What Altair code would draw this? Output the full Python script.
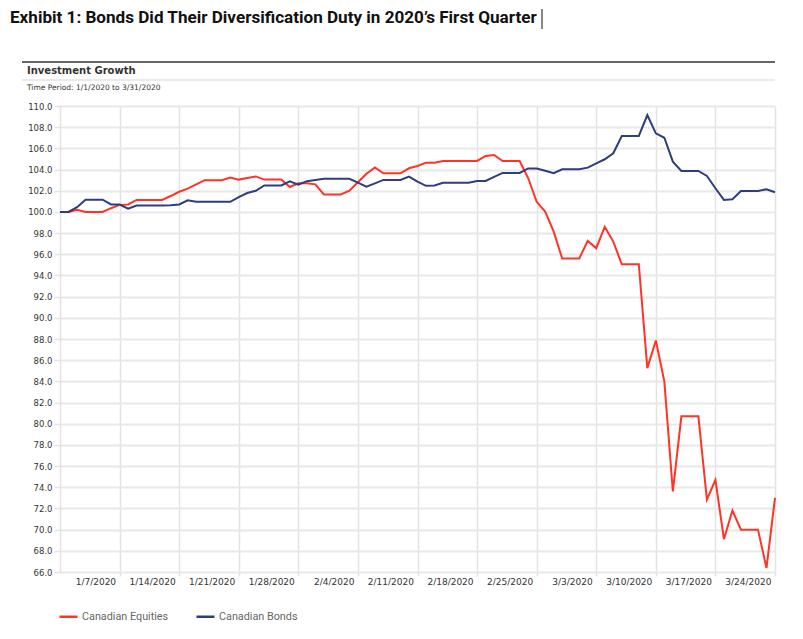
import altair as alt
import pandas as pd

# Daily values (calendar days) from 2019-12-31 to 2020-03-24
start_date = "2019-12-31"
equities = [
    100.0, 100.0, 100.2, 100.0, 100.0, 100.0, 100.35, 100.66, 100.7, 101.13,
    101.13, 101.13, 101.13, 101.5, 101.9, 102.2, 102.6, 103.0, 103.0, 103.0,
    103.24, 103.05, 103.2, 103.35, 103.05, 103.05, 103.05, 102.35, 102.7, 102.7,
    102.6, 101.65, 101.65, 101.65, 102.0, 102.8, 103.6, 104.2, 103.65, 103.65,
    103.65, 104.12, 104.34, 104.65, 104.65, 104.81, 104.81, 104.81, 104.81, 104.81,
    105.28, 105.38, 104.81, 104.81, 104.81, 103.2, 100.95, 100.03, 98.14, 95.6,
    95.6, 95.6, 97.26, 96.57, 98.6, 97.2, 95.06, 95.06, 95.06, 85.25,
    87.86, 84.0, 73.6, 80.7, 80.7, 80.7, 72.83, 74.7, 69.1, 71.8,
    70.0, 70.0, 70.0, 66.38, 73.0,
]
bonds = [
    100.0, 100.0, 100.45, 101.15, 101.15, 101.15, 100.7, 100.7, 100.3, 100.6,
    100.6, 100.6, 100.6, 100.62, 100.7, 101.1, 100.95, 100.95, 100.95, 100.95,
    100.95, 101.4, 101.78, 102.0, 102.5, 102.5, 102.5, 102.88, 102.58, 102.9,
    103.02, 103.12, 103.12, 103.12, 103.12, 102.77, 102.39, 102.7, 103.02, 103.02,
    103.02, 103.33, 102.86, 102.46, 102.5, 102.75, 102.75, 102.75, 102.75, 102.92,
    102.92, 103.3, 103.68, 103.68, 103.68, 104.1, 104.1, 103.88, 103.65, 104.03,
    104.03, 104.03, 104.18, 104.59, 104.97, 105.54, 107.17, 107.17, 107.17, 109.15,
    107.42, 107.0, 104.75, 103.87, 103.87, 103.87, 103.4, 102.23, 101.13, 101.2,
    101.98, 101.98, 101.98, 102.14, 101.86,
]
series_names = ["Canadian Equities", "Canadian Bonds"]
series_colors = ["#ff3326", "#2e3d7c"]
tick_dates = [(1, 7), (1, 14), (1, 21), (1, 28), (2, 4), (2, 11), (2, 18),
              (2, 25), (3, 3), (3, 10), (3, 17), (3, 24)]
y_ticks = [66 + 2 * i for i in range(23)]

title_text = "Exhibit 1: Bonds Did Their Diversification Duty in 2020\u2019s First Quarter"
panel_title = "Investment Growth"
period_text = "Time Period: 1/1/2020 to 3/31/2020"

dates = pd.date_range(start=start_date, periods=len(equities), freq="D").strftime("%Y-%m-%dT00:00:00")
df = pd.concat([
    pd.DataFrame({"date": dates, "value": equities, "series": series_names[0]}),
    pd.DataFrame({"date": dates, "value": bonds, "series": series_names[1]}),
])

W, H = 715, 466
cond_font = "Roboto"
axis_font = "DejaVu Sans"

x_enc = alt.X(
    "date:T",
    scale=alt.Scale(domain=[alt.DateTime(year=2019, month=12, date=31),
                            alt.DateTime(year=2020, month=3, date=24)]),
    axis=alt.Axis(
        values=[alt.DateTime(year=2020, month=m, date=d) for m, d in tick_dates],
        format="%-m/%-d/%Y", title=None, labelAlign="right", labelOffset=-4,
        labelFont=axis_font, labelFontSize=9, labelColor="#333",
        tickSize=4, tickColor="#e3e3e3", tickWidth=1.5, labelPadding=1,
        grid=True, gridColor="#e3e3e3", gridWidth=1.5, domain=False,
    ),
)
y_enc = alt.Y(
    "value:Q",
    scale=alt.Scale(domain=[66, 110], nice=False, zero=False),
    axis=alt.Axis(
        values=y_ticks, format=".1f", title=None,
        labelFont=axis_font, labelFontSize=8.5, labelColor="#333",
        tickSize=6, tickColor="#e3e3e3", tickWidth=1.5, labelPadding=2,
        grid=True, gridColor="#e8e8e8", gridWidth=2,
        domain=True, domainColor="#e3e3e3", domainWidth=1.5,
    ),
)

lines = alt.Chart(df).mark_line(strokeWidth=2).encode(
    x=x_enc,
    y=y_enc,
    color=alt.Color(
        "series:N",
        scale=alt.Scale(domain=series_names, range=series_colors),
        sort=series_names,
        legend=alt.Legend(
            title=None, orient="none", legendX=-2, legendY=500, direction="horizontal",
            symbolType="stroke", symbolSize=324, symbolStrokeWidth=2.5,
            labelFont=cond_font, labelFontSize=10.8, labelColor="#666",
            labelOffset=3, columnPadding=22,
        ),
    ),
    order=alt.Order("series:N", sort="descending"),
)

one = pd.DataFrame({"k": [0]})

def text_layer(txt, x, y, size, font, weight="normal", color="#222", baseline="middle"):
    return alt.Chart(one).mark_text(
        align="left", baseline=baseline, font=font, fontSize=size,
        fontWeight=weight, color=color,
    ).encode(x=alt.value(x), y=alt.value(y), text=alt.value(txt))

title_layer = text_layer(title_text, -50, -83, 17.1, cond_font, "bold", "#111", "alphabetic")
panel_layer = text_layer(panel_title, -33, -35, 10, axis_font, "bold", "#333")
period_layer = text_layer(period_text, -33, -18, 7.5, axis_font, "normal", "#333")

top_rule = alt.Chart(one).mark_rule(color="#666", strokeWidth=2).encode(
    x=alt.value(-38), x2=alt.value(W), y=alt.value(-44))
sub_rule = alt.Chart(one).mark_rule(color="#e3e3e3", strokeWidth=1.5).encode(
    x=alt.value(-38), x2=alt.value(W), y=alt.value(-26))
cursor_rule = alt.Chart(one).mark_rule(color="#111", strokeWidth=1).encode(
    x=alt.value(482), y=alt.value(-97), y2=alt.value(-77))

chart = alt.layer(
    top_rule, sub_rule, title_layer, cursor_rule, panel_layer, period_layer, lines
).properties(
    width=W, height=H,
    autosize=alt.AutoSizeParams(type="none"),
    padding={"left": 52, "top": 98, "right": 20, "bottom": 59},
).configure_view(stroke=None)

chart.save("out.html", embed_options={"renderer": "svg", "actions": False})
